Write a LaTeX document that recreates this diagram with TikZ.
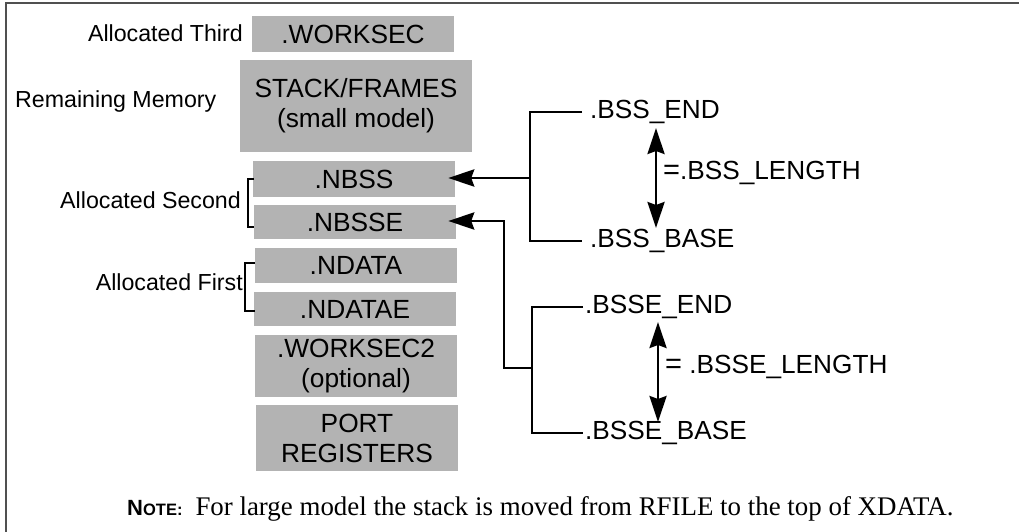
\documentclass[tikz,border=0pt]{standalone}
\usepackage{fontspec}
\setmainfont{Liberation Serif}
\newfontfamily\hv{Liberation Sans}
\usetikzlibrary{arrows.meta}
\definecolor{boxgray}{RGB}{179,179,179}
\definecolor{framegray}{RGB}{80,80,80}
\tikzset{
  membox/.style={fill=boxgray, inner sep=0pt, align=center,
    font=\hv\fontsize{26.3}{30}\selectfont},
  sidelabel/.style={inner sep=0pt, font=\hv\fontsize{23.2}{26}\selectfont},
  symlabel/.style={inner sep=0pt, font=\hv\fontsize{26.2}{29}\selectfont},
  wire/.style={line width=2.8pt},
  ptr/.style={wire, -{Stealth[length=26pt, width=17pt, inset=3pt]}},
  span/.style={wire, {Stealth[length=26pt, width=17pt, inset=3pt]}-{Stealth[length=26pt, width=17pt, inset=3pt]}},
  brace/.style={line width=2.8pt},
}
\begin{document}
\begin{tikzpicture}[x=1pt, y=-1pt]
\useasboundingbox (0,0) rectangle (1019,532);

% outer frame (top and left edges)
\draw[framegray, line width=2pt] (5.5,532) -- (5.5,3.5) -- (1019,3.5);

% memory map
\node[membox, minimum width=202pt, minimum height=36pt] (work)   at (353,34)   {.WORKSEC};
\node[membox, minimum width=232pt, minimum height=92pt] (stack)  at (356,106)  {STACK/FRAMES\\(small model)};
\node[membox, minimum width=202pt, minimum height=36pt] (nbss)   at (354,179)  {.NBSS};
\node[membox, minimum width=202pt, minimum height=34pt] (nbsse)  at (355,222)  {.NBSSE};
\node[membox, minimum width=202pt, minimum height=35pt] (ndata)  at (356,265.5){.NDATA};
\node[membox, minimum width=202pt, minimum height=34pt] (ndatae) at (355,309)  {.NDATAE};
\node[membox, minimum width=202pt, minimum height=62pt] (work2)  at (356,366)  {.WORKSEC2\\(optional)};
\node[membox, minimum width=202pt, minimum height=66pt] (port)   at (357,438)  {PORT\\REGISTERS};

% allocation order labels
\node[sidelabel, anchor=east] (third)  at (243,33)  {Allocated Third};
\node[sidelabel, anchor=west] (remain) at (15,102)  {Remaining Memory};
\node[sidelabel, anchor=east] (second) at (241,200) {Allocated Second};
\node[sidelabel, anchor=east] (first)  at (243,282) {Allocated First};

% brackets grouping the sections
\coordinate (b2t) at (254,179);
\coordinate (b2b) at (254,227);
\draw[brace] (b2t) -- ++(-6,0) |- (b2b);
\coordinate (b1t) at (255,263);
\coordinate (b1b) at (255,311);
\draw[brace] (b1t) -- ++(-10,0) |- (b1b);

% .BSS symbols
\node[symlabel, anchor=west] (bssend)  at (590,112) {.BSS\_END};
\node[symlabel, anchor=west] (bssbase) at (590,241) {.BSS\_BASE};
\node[symlabel, anchor=west] (bsslen)  at (663,173) {{\fontsize{29}{29}\selectfont=}.BSS\_LENGTH};
\coordinate (j1) at (530,178);
\draw[wire] ([xshift=-8pt]bssend.west) -| (j1) |- ([xshift=-8pt]bssbase.west);
\draw[ptr] (j1) -- ([xshift=-7pt]nbss.east |- j1);
\coordinate (l1t) at (656,128);
\coordinate (l1b) at (656,228);
\draw[span] (l1t) -- (l1b);

% .BSSE symbols
\node[symlabel, anchor=west] (bsseend)  at (585,307) {.BSSE\_END};
\node[symlabel, anchor=west] (bssebase) at (585,433) {.BSSE\_BASE};
\node[symlabel, anchor=west] (bsselen)  at (665,367) {{\fontsize{29}{29}\selectfont=} .BSSE\_LENGTH};
\coordinate (j2) at (532,368);
\draw[wire] ([xshift=-2pt]bsseend.west) -| (j2) |- ([xshift=-2pt]bssebase.west);
\coordinate (k2) at (504,221);
\draw[ptr] (j2) -| (k2) -- ([xshift=-8pt]nbsse.east |- k2);
\coordinate (l2t) at (658,322);
\coordinate (l2b) at (658,422);
\draw[span] (l2t) -- (l2b);

% footnote
\node[inner sep=0pt, anchor=base west] (note) at (127,515)
  {{\hv\bfseries\fontsize{22}{22}\selectfont N\fontsize{16.5}{17}\selectfont OTE:}\hspace{13pt}%
   \fontsize{26.9}{30}\selectfont For large model the stack is moved from RFILE to the top of XDATA.};
\end{tikzpicture}
\end{document}
